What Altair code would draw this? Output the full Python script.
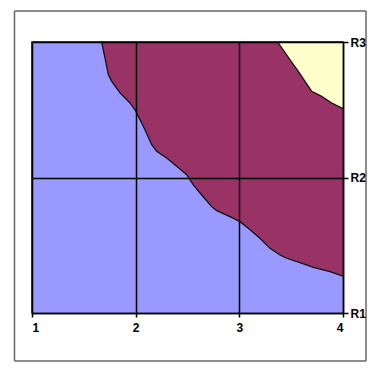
import altair as alt
import pandas as pd

# Axis categories
x_ticks = [1, 2, 3, 4]
row_labels = ["R1", "R2", "R3"]
row_values = [1, 2, 3]

# Boundary between lowest band (blue) and middle band (maroon)
blue_x = [1.672, 1.704, 1.736, 1.769, 1.849, 1.945, 1.994, 2.025, 2.074, 2.155, 2.203,
          2.299, 2.396, 2.492, 2.556, 2.637, 2.733, 2.782, 2.910, 3.006, 3.086, 3.199,
          3.296, 3.392, 3.457, 3.585, 3.714, 3.875, 4.0]
blue_y = [3.0, 2.882, 2.759, 2.710, 2.624, 2.550, 2.500, 2.452, 2.378, 2.242, 2.193,
          2.144, 2.083, 2.021, 1.945, 1.871, 1.785, 1.755, 1.711, 1.674, 1.625, 1.551,
          1.477, 1.428, 1.404, 1.371, 1.337, 1.305, 1.273]

# Boundary between middle band (maroon) and top band (yellow)
yel_x = [3.370, 3.409, 3.489, 3.569, 3.633, 3.698, 3.794, 3.891, 4.0]
yel_y = [3.0, 2.956, 2.869, 2.784, 2.710, 2.636, 2.599, 2.550, 2.508]

band_colors = ["#9999FF", "#993366", "#FFFFCC"]

xmin, xmax = min(x_ticks), max(x_ticks)
ymin, ymax = min(row_values), max(row_values)

bg_df = pd.DataFrame({"x": [xmin], "x2": [xmax], "y": [ymin], "y2": [ymax]})
maroon_df = pd.DataFrame({"x": blue_x, "y": blue_y, "top": [ymax] * len(blue_x)})
yellow_df = pd.DataFrame({"x": yel_x, "y": yel_y, "top": [ymax] * len(yel_x)})

xs = alt.Scale(domain=[xmin, xmax], nice=False, zero=False)
ys = alt.Scale(domain=[ymin, ymax], nice=False, zero=False)

label_expr = "[" + ",".join("'%s'" % r for r in row_labels) + "][datum.value - 1]"

x_axis = alt.Axis(values=x_ticks, format="d", title=None, orient="bottom",
                  grid=True, gridColor="black", gridWidth=1.5, gridOpacity=1,
                  domainColor="black", domainWidth=1.5, tickColor="black",
                  tickSize=4, tickWidth=1.5, labelPadding=5, labelFontSize=12,
                  labelFontWeight="bold",
                  labelColor="black", labelFont="Liberation Sans", zindex=2)
y_axis = alt.Axis(values=row_values, labelExpr=label_expr, title=None, orient="right",
                  grid=True, gridColor="black", gridWidth=1.5, gridOpacity=1,
                  domainColor="black", domainWidth=1.5, tickColor="black",
                  tickSize=5, tickWidth=1.5, labelPadding=2, labelFontSize=12,
                  labelFontWeight="bold",
                  labelColor="black", labelFont="Liberation Sans", zindex=2)

bg = alt.Chart(bg_df).mark_rect(color=band_colors[0]).encode(
    x=alt.X("x:Q", scale=xs, axis=x_axis),
    x2="x2:Q",
    y=alt.Y("y:Q", scale=ys, axis=y_axis),
    y2="y2:Q",
)

maroon = alt.Chart(maroon_df).mark_area(color=band_colors[1], opacity=1).encode(
    x=alt.X("x:Q", scale=xs), y=alt.Y("y:Q", scale=ys), y2="top:Q")
maroon_edge = alt.Chart(maroon_df).mark_line(color="#111111", strokeWidth=1.3).encode(
    x=alt.X("x:Q", scale=xs), y=alt.Y("y:Q", scale=ys))

yellow = alt.Chart(yellow_df).mark_area(color=band_colors[2], opacity=1).encode(
    x=alt.X("x:Q", scale=xs), y=alt.Y("y:Q", scale=ys), y2="top:Q")
yellow_edge = alt.Chart(yellow_df).mark_line(color="#111111", strokeWidth=1.3).encode(
    x=alt.X("x:Q", scale=xs), y=alt.Y("y:Q", scale=ys))

# outer chart-area frame (decoration)
frame_col = "#666666"
f_left = alt.Chart(bg_df).mark_rule(color=frame_col, strokeWidth=1.5).encode(
    x=alt.value(-17.5), y=alt.value(-31), y2=alt.value(319))
f_right = alt.Chart(bg_df).mark_rule(color=frame_col, strokeWidth=1.5).encode(
    x=alt.value(334), y=alt.value(-31), y2=alt.value(319))
f_top = alt.Chart(bg_df).mark_rule(color=frame_col, strokeWidth=1.5).encode(
    x=alt.value(-17.5), x2=alt.value(334), y=alt.value(-31))
f_bottom = alt.Chart(bg_df).mark_rule(color=frame_col, strokeWidth=1.5).encode(
    x=alt.value(-17.5), x2=alt.value(334), y=alt.value(319))

chart = alt.layer(bg, maroon, yellow, maroon_edge, yellow_edge,
                  f_left, f_right, f_top, f_bottom).properties(
    width=311, height=271,
    autosize=alt.AutoSizeParams(type="none"),
    padding={"left": 24, "top": 34, "right": 26, "bottom": 49},
    background="white",
).configure_view(stroke="black", strokeWidth=1.5)

chart.save("out.html", embed_options={"renderer": "svg", "actions": False})
